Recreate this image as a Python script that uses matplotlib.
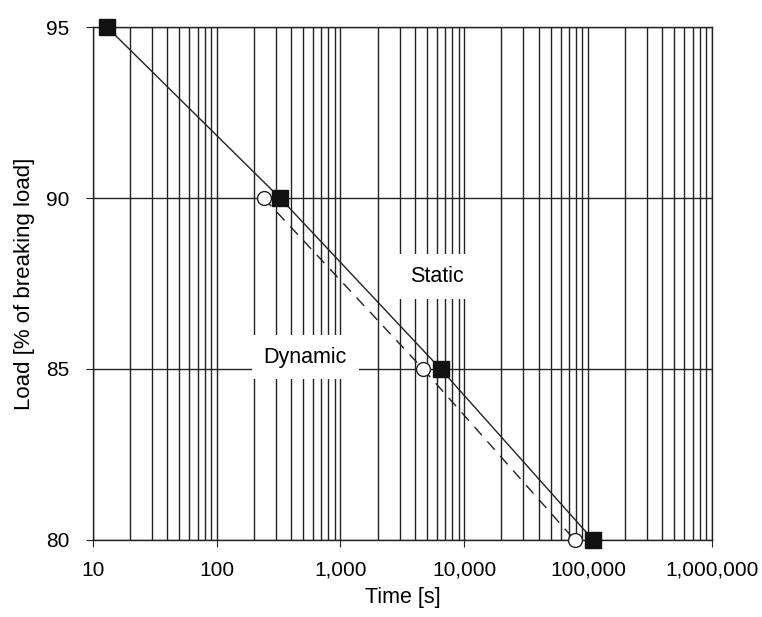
import numpy as np
import matplotlib.pyplot as plt
from matplotlib.ticker import FixedLocator, LogLocator, NullFormatter

plt.rcParams['font.family'] = ['Liberation Sans', 'DejaVu Sans']

# static test: load vs time to failure
static_load = [95, 90, 85, 80]
static_time = [13, 325, 6450, 110000]

# dynamic test
dynamic_load = [90, 85, 80]
dynamic_time = [240, 4650, 78000]

xticks = [10, 100, 1000, 10000, 100000, 1000000]
xticklabels = ['10', '100', '1,000', '10,000', '100,000', '1,000,000']
yticks = [80, 85, 90, 95]

fig = plt.figure(figsize=(7.62, 6.17), dpi=100)
ax = fig.add_axes([0.122, 0.125, 0.812, 0.831])

ax.set_xscale('log')
ax.set_xlim(10, 1e6)
ax.set_ylim(80, 95)

gc = '#222222'
ax.xaxis.set_minor_locator(LogLocator(base=10, subs=np.arange(2, 10)))
ax.xaxis.set_minor_formatter(NullFormatter())
ax.grid(True, which='both', axis='x', color=gc, lw=1.0)
ax.grid(True, which='major', axis='y', color=gc, lw=1.0)
ax.set_axisbelow(True)

ax.plot(static_time, static_load, color='#222222', lw=1.0,
        marker='s', ms=11, mfc='#111111', mec='#111111', zorder=4, clip_on=False)
ax.plot(dynamic_time, dynamic_load, color='#222222', lw=1.0, ls=(0, (8, 6)),
        marker='o', ms=10, mfc='white', mec='#222222', mew=1.0, zorder=3, clip_on=False)

ax.text(520, 85.35, 'Dynamic', fontsize=15.5, ha='center', va='center', zorder=2,
        bbox=dict(boxstyle='square,pad=0.55', facecolor='white', edgecolor='none'))
ax.text(6000, 87.7, 'Static', fontsize=15.5, ha='center', va='center', zorder=2,
        bbox=dict(boxstyle='square,pad=0.55', facecolor='white', edgecolor='none'))

ax.set_xticks(xticks)
ax.set_xticklabels(xticklabels)
ax.yaxis.set_major_locator(FixedLocator(yticks))
ax.tick_params(axis='both', which='major', direction='out', length=5,
               color=gc, labelsize=15)
ax.tick_params(axis='x', which='major', pad=10)
ax.tick_params(axis='y', which='major', pad=12)
ax.tick_params(axis='x', which='minor', length=0)

for s in ax.spines.values():
    s.set_color(gc)
    s.set_linewidth(1.0)

ax.set_xlabel('Time [s]', fontsize=15.5, labelpad=5)
ax.set_ylabel('Load [% of breaking load]', fontsize=16, labelpad=8)

fig.savefig('out.png', dpi=100)
